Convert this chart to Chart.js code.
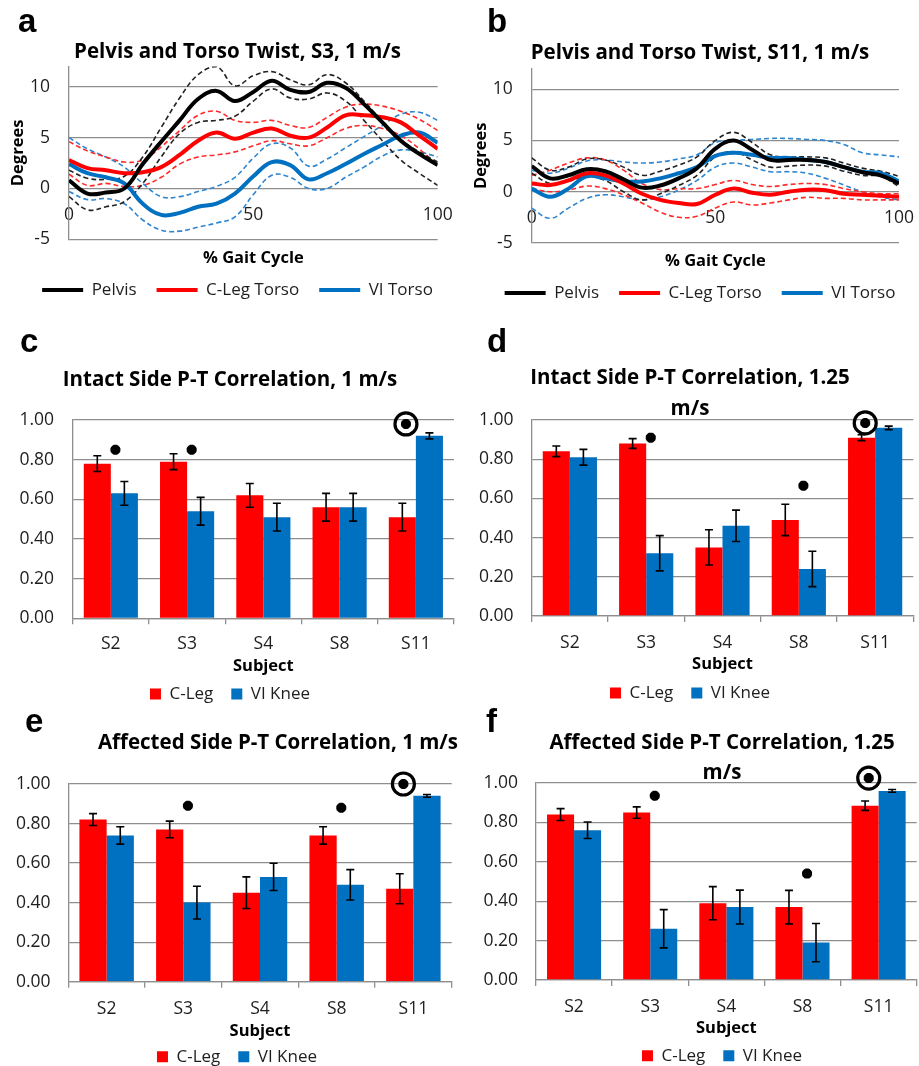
<!DOCTYPE html>
<html><head><meta charset="utf-8"><title>Pelvis-Torso twist and P-T correlation</title>
<script src="https://cdn.jsdelivr.net/npm/chart.js@4.4.1/dist/chart.umd.min.js"></script>
<style>
html,body{margin:0;padding:0;overflow:hidden;background:#fff;width:919px;height:1066px}
#wrap{position:relative;width:919px;height:1066px;overflow:hidden;background:#fff}
.pl{position:absolute;font-family:"Liberation Sans",Arial,sans-serif;font-weight:bold;font-size:33px;line-height:33px;color:#000;z-index:5}
</style></head><body><div id="wrap">
<div class="pl" style="left:18px;top:4px">a</div>
<div class="pl" style="left:487px;top:4px">b</div>
<div class="pl" style="left:20px;top:324px">c</div>
<div class="pl" style="left:487px;top:324px">d</div>
<div class="pl" style="left:25px;top:704px">e</div>
<div class="pl" style="left:486px;top:704px">f</div>
</div>
<script>
// ---------------- DATA ----------------
const gaitPct = [0,5,10,15,20,25,30,35,40,45,50,55,60,65,70,75,80,85,90,95,100];

// Panel a: S3, 1 m/s
const aPelvis   = [0.8,-0.5,-0.4,0.0,2.4,4.6,6.7,8.8,9.6,8.6,9.5,10.6,9.7,9.5,10.4,9.9,8.3,6.5,4.7,3.4,2.3];
const aPelvisHi = [1.8,1.0,0.9,1.2,3.1,6.0,8.9,11.2,12.0,10.1,11.1,11.5,10.7,10.2,11.2,10.4,8.6,6.6,4.8,3.6,2.6];
const aPelvisLo = [-0.8,-2.1,-1.8,-1.3,0.5,3.1,5.4,6.5,6.7,7.1,8.6,9.8,8.9,8.8,9.4,8.6,6.7,4.7,2.8,1.5,0.3];
const aCLeg     = [2.8,2.0,1.8,1.5,1.6,2.1,3.3,4.7,5.5,4.9,5.5,5.9,5.2,5.0,6.0,7.2,7.2,7.0,6.5,5.2,3.9];
const aCLegHi   = [4.6,3.7,3.1,2.6,2.8,4.1,5.7,7.2,7.6,6.7,6.5,6.7,6.2,6.0,7.0,8.0,8.3,8.1,7.6,6.8,5.7];
const aCLegLo   = [1.4,0.3,0.5,0.2,0.3,1.1,2.4,3.1,3.3,3.6,4.2,4.7,4.4,4.2,5.0,5.9,6.2,5.9,5.2,3.9,2.2];
const aVI       = [2.4,1.5,1.1,0.5,-1.5,-2.6,-2.4,-1.8,-1.5,-0.5,1.2,2.6,2.3,0.9,1.5,2.4,3.4,4.3,5.2,5.5,4.5];
const aVIHi     = [5.0,3.9,3.1,2.1,0.5,-0.8,-0.8,-0.3,0.2,1.1,3.0,4.4,4.0,2.2,2.9,4.0,5.1,6.2,7.3,7.5,6.7];
const aVILo     = [-0.3,-1.1,-1.0,-1.5,-3.1,-4.1,-4.2,-3.8,-3.4,-2.8,-0.6,1.3,1.1,0.0,0.0,1.1,2.1,3.2,3.8,3.6,3.1];

// Panel b: S11, 1 m/s
const bPelvis   = [2.5,1.3,1.6,2.2,2.0,1.2,0.4,0.6,1.3,2.3,4.2,5.0,4.1,3.1,3.1,3.1,2.9,2.4,1.9,1.6,0.8];
const bPelvisHi = [3.3,2.1,2.4,3.2,3.1,2.4,1.6,2.0,2.6,3.4,5.0,5.8,4.8,3.6,3.4,3.4,3.3,2.8,2.3,2.0,1.5];
const bPelvisLo = [1.8,0.8,1.0,1.5,1.1,0.0,-0.8,-0.2,0.6,1.6,3.4,3.9,3.1,2.4,2.5,2.6,2.5,2.0,1.6,1.5,0.5];
const bCLeg     = [0.8,0.65,1.1,1.8,1.6,0.8,-0.2,-0.8,-1.1,-1.2,-0.3,0.3,-0.1,-0.3,0.0,0.2,0.15,-0.2,-0.3,-0.4,-0.5];
const bCLegHi   = [1.6,2.1,2.8,3.3,3.1,2.1,0.8,0.2,0.3,0.3,0.7,1.1,0.7,0.5,0.7,0.8,0.7,0.3,0.0,-0.2,-0.2];
const bCLegLo   = [0.3,0.0,0.15,0.55,0.3,-0.3,-1.1,-2.0,-2.5,-2.4,-1.6,-1.0,-1.3,-1.1,-0.8,-0.55,-0.65,-0.65,-0.8,-0.8,-0.8];
const bVI       = [0.3,-0.5,0.3,1.5,1.3,1.0,1.0,1.3,1.8,2.4,3.5,3.8,3.6,3.3,3.3,3.1,2.9,2.4,1.95,1.8,1.0];
const bVIHi     = [2.1,1.8,2.3,3.0,3.1,2.9,2.8,2.9,3.2,3.6,4.8,5.0,5.1,5.2,5.2,5.1,5.0,4.6,3.8,3.6,3.4];
const bVILo     = [-1.6,-2.6,-1.6,-0.65,-0.3,-0.5,-0.8,-0.5,0.15,1.1,2.4,2.8,2.4,1.95,1.95,1.8,1.3,0.65,0.0,-0.5,-0.8];

const lineTicksY = [-5,0,5,10];
const lineTicksX = [0,50,100];

// Bar panels
const subjects = ['S2','S3','S4','S8','S11'];
// c: intact side, 1 m/s
const cCLeg = [0.78,0.79,0.62,0.56,0.51];
const cCLegErr = [0.04,0.04,0.06,0.07,0.07];
const cVI = [0.63,0.54,0.51,0.56,0.92];
const cVIErr = [0.06,0.07,0.07,0.07,0.015];
const cStar = [0.85,0.85,null,null,0.98];
const cCircle = [null,null,null,null,0.98];
// d: intact side, 1.25 m/s
const dCLeg = [0.84,0.88,0.35,0.49,0.91];
const dCLegErr = [0.027,0.025,0.09,0.08,0.015];
const dVI = [0.81,0.32,0.46,0.24,0.96];
const dVIErr = [0.04,0.09,0.08,0.09,0.009];
const dStar = [null,0.91,null,0.665,0.985];
const dCircle = [null,null,null,null,0.985];
// e: affected side, 1 m/s
const eCLeg = [0.82,0.77,0.45,0.74,0.47];
const eCLegErr = [0.03,0.042,0.08,0.044,0.076];
const eVI = [0.74,0.40,0.53,0.49,0.94];
const eVIErr = [0.044,0.083,0.069,0.077,0.007];
const eStar = [null,0.89,null,0.88,1.0];
const eCircle = [null,null,null,null,1.0];
// f: affected side, 1.25 m/s
const fCLeg = [0.84,0.85,0.39,0.37,0.885];
const fCLegErr = [0.03,0.029,0.084,0.085,0.024];
const fVI = [0.76,0.26,0.37,0.19,0.96];
const fVIErr = [0.042,0.097,0.086,0.097,0.007];
const fStar = [null,0.935,null,0.54,1.025];
const fCircle = [null,null,null,null,1.025];

const barTicks = [0,0.2,0.4,0.6,0.8,1.0];

// ---------------- STYLE ----------------
const RED = '#FF0000', BLUE = '#0070C0', BLACK = '#000000';
const GRID = '#8e8e8e', TXT = '#1e1e1e';
const TITLE_SIZE = 20.5, TICK_SIZE = 17.5, AXT_SIZE = 16.5, LEG_SIZE = 17;
const STAR_DX = 0.06, CIRCLE_DX = -0.13;

Chart.defaults.font.family = "'Open Sans', 'Noto Sans', sans-serif";
Chart.defaults.color = TXT;
Chart.defaults.animation = false;

function mkCanvas(left, top, w, h) {
  const c = document.createElement('canvas');
  c.width = w; c.height = h;
  c.style.cssText = 'position:absolute;left:' + left + 'px;top:' + top + 'px;width:' + w + 'px;height:' + h + 'px';
  document.getElementById('wrap').appendChild(c);
  return c;
}

function layoutFor(g) {
  const hw = g.hw || Math.max(g.cx - g.L + 72, g.R - g.cx + 5);
  const left = Math.round(g.cx - hw);
  const W = Math.round(g.cx + hw) - left;
  const yW = g.L - left;
  const rW = left + W - g.R;
  const tLH = g.titleLH || TITLE_SIZE * 1.2;
  const n = g.title.length;
  const tPadTop = g.titleY - g.top - tLH / 2;
  const tPadBot = (g.T - g.top) - tPadTop - n * tLH;
  const itemH = LEG_SIZE, P = g.legendPad;
  const legTop = g.legendY - g.top - P - itemH / 2;
  const legH = itemH + P + 10;
  const H = Math.ceil(legTop + legH + 2);
  const padBottom = H - legTop - legH;
  const axH = legTop - (g.B - g.top);
  const axPadBot = legTop - AXT_SIZE * 1.2 / 2 - (g.axTitleY - g.top);
  return {left, W, H, yW, rW, tLH, tPadTop, tPadBot, padBottom, axH, axPadBot};
}

function titleOpts(g, c) {
  return {display: true, text: g.title, align: g.titleAlign || 'center', color: '#000',
    font: {size: TITLE_SIZE, weight: 'bold', lineHeight: c.tLH / TITLE_SIZE},
    padding: {top: c.tPadTop, bottom: c.tPadBot}};
}

function lineChart(g, s) {
  const c = layoutFor(g);
  const cv = mkCanvas(c.left, g.top, c.W, c.H);
  const pts = arr => gaitPct.map((x, i) => ({x: x, y: arr[i]}));
  const mk = (arr, color, dashed, label) => ({
    label: label, data: pts(arr), borderColor: color, backgroundColor: color,
    borderWidth: dashed ? 1.6 : 4, borderDash: dashed ? [5, 3] : [], pointRadius: 0,
    tension: 0.4, fill: false, xAxisID: 'x', yAxisID: 'y'
  });
  const datasets = [
    mk(s.pelvis, BLACK, false, 'Pelvis'),
    mk(s.cleg, RED, false, 'C-Leg Torso'),
    mk(s.vi, BLUE, false, 'VI Torso'),
    mk(s.pelvisHi, '#222', true, 'Pelvis +SD'), mk(s.pelvisLo, '#222', true, 'Pelvis -SD'),
    mk(s.clegHi, '#ff2a2a', true, 'C-Leg +SD'), mk(s.clegLo, '#ff2a2a', true, 'C-Leg -SD'),
    mk(s.viHi, '#2f86d0', true, 'VI +SD'), mk(s.viLo, '#2f86d0', true, 'VI -SD')
  ];
  const yMin = -5, yMax = 12;
  const y0 = g.B - (0 - yMin) / (yMax - yMin) * (g.B - g.T);
  const xTickPad = g.tickY - y0 - TICK_SIZE * 1.2 / 2;
  new Chart(cv, {
    type: 'line',
    data: {datasets: datasets},
    options: {
      responsive: false, animation: false,
      layout: {padding: {left: 0, right: 0, top: 0, bottom: c.padBottom}},
      scales: {
        x: {type: 'linear', min: 0, max: 100, position: {y: 0},
          afterBuildTicks: sc => { sc.ticks = lineTicksX.map(v => ({value: v})); },
          grid: {display: false, drawTicks: false}, border: {display: false},
          ticks: {padding: xTickPad, font: {size: TICK_SIZE}, color: TXT, maxRotation: 0}},
        xt: {type: 'linear', position: 'bottom', min: 0, max: 100,
          ticks: {display: false}, grid: {display: false, drawTicks: false}, border: {display: false},
          title: {display: true, text: '% Gait Cycle', color: '#000', font: {size: AXT_SIZE, weight: 'bold'},
            padding: {top: 0, bottom: c.axPadBot}},
          afterFit: sc => { sc.height = c.axH; }},
        y: {type: 'linear', min: yMin, max: yMax, position: 'left',
          afterBuildTicks: sc => { sc.ticks = lineTicksY.map(v => ({value: v})); },
          grid: {color: GRID, lineWidth: 1.3, drawTicks: false},
          border: {display: true, color: GRID, width: 1.3},
          ticks: {padding: g.L - g.yTickRight, font: {size: TICK_SIZE}, color: TXT},
          title: {display: true, text: 'Degrees', color: '#000', font: {size: AXT_SIZE, weight: 'bold'},
            padding: {top: g.yTitleX - c.left - AXT_SIZE * 1.2 / 2, bottom: 0}},
          afterFit: sc => { sc.width = c.yW; }},
        yr: {type: 'linear', position: 'right', ticks: {display: false}, grid: {display: false}, border: {display: false},
          afterFit: sc => { sc.width = c.rW; }}
      },
      plugins: {
        title: titleOpts(g, c),
        legend: {position: 'bottom',
          labels: {boxWidth: 41, boxHeight: 4, padding: g.legendPad, font: {size: LEG_SIZE}, color: TXT,
            generateLabels: ch => ch.data.datasets.slice(0, 3).map((d, i) => ({
              text: d.label, fillStyle: d.borderColor, strokeStyle: d.borderColor, lineWidth: 0,
              hidden: false, datasetIndex: i, fontColor: TXT}))}},
        tooltip: {enabled: false}
      }
    }
  });
}

// error bars, drawn from each bar element and the y scale
const errPlugin = {
  id: 'errbars',
  afterDatasetsDraw(chart) {
    const ctx = chart.ctx, ys = chart.scales.y;
    ctx.save();
    ctx.strokeStyle = '#000'; ctx.lineWidth = 1.6;
    chart.data.datasets.forEach((ds, di) => {
      if (!ds.errValues) return;
      const meta = chart.getDatasetMeta(di);
      meta.data.forEach((bar, i) => {
        const v = ds.data[i], e = ds.errValues[i];
        const yt = ys.getPixelForValue(v + e), yb = ys.getPixelForValue(v - e);
        const x = bar.x, cw = 4;
        ctx.beginPath();
        ctx.moveTo(x, yt); ctx.lineTo(x, yb);
        ctx.moveTo(x - cw, yt); ctx.lineTo(x + cw, yt);
        ctx.moveTo(x - cw, yb); ctx.lineTo(x + cw, yb);
        ctx.stroke();
      });
    });
    ctx.restore();
  }
};

// significance asterisks and highlight circles, placed with the chart's own scales
function sigPlugin(stars, circles) {
  return {
    id: 'sigmarks',
    afterDatasetsDraw(chart) {
      const ctx = chart.ctx, xs = chart.scales.x, ys = chart.scales.y;
      const cw = (xs.right - xs.left) / subjects.length;
      ctx.save();
      ctx.strokeStyle = '#000'; ctx.fillStyle = 'rgba(0,0,0,0)';
      subjects.forEach((s, i) => {
        const hasCircle = circles[i] != null;
        const dx = (hasCircle ? CIRCLE_DX : STAR_DX) * cw;
        const x = xs.getPixelForValue(i) + dx;
        if (stars[i] != null) {
          ctx.lineWidth = 3.6;
          Chart.helpers.drawPoint(ctx, {pointStyle: 'star', radius: 5, borderWidth: 3.6, rotation: 0}, x, ys.getPixelForValue(stars[i]));
        }
        if (hasCircle) {
          ctx.lineWidth = 3.2;
          Chart.helpers.drawPoint(ctx, {pointStyle: 'circle', radius: 11, borderWidth: 3.2, rotation: 0}, x, ys.getPixelForValue(circles[i]));
        }
      });
      ctx.restore();
    }
  };
}

function barChart(g, d) {
  const c = layoutFor(g);
  const cv = mkCanvas(c.left, g.top, c.W, c.H);
  const tickLen = 6;
  const tickPad = g.tickY - g.B - tickLen - TICK_SIZE * 1.2 / 2;
  new Chart(cv, {
    type: 'bar',
    data: {labels: subjects, datasets: [
      {label: 'C-Leg', data: d.cleg, errValues: d.clegErr, backgroundColor: RED, borderWidth: 0,
        categoryPercentage: 0.71, barPercentage: 1.0},
      {label: 'VI Knee', data: d.vi, errValues: d.viErr, backgroundColor: BLUE, borderWidth: 0,
        categoryPercentage: 0.71, barPercentage: 1.0}
    ]},
    options: {
      responsive: false, animation: false,
      layout: {padding: {left: 0, right: 0, top: 0, bottom: c.padBottom}},
      scales: {
        x: {type: 'category', position: 'bottom',
          grid: {display: true, drawOnChartArea: false, drawTicks: true, tickLength: tickLen, offset: true, color: GRID, lineWidth: 1.3},
          border: {display: true, color: GRID, width: 1.3},
          ticks: {padding: tickPad, font: {size: TICK_SIZE}, color: TXT, maxRotation: 0},
          title: {display: true, text: 'Subject', color: '#000', font: {size: AXT_SIZE, weight: 'bold'},
            padding: {top: 0, bottom: c.axPadBot}},
          afterFit: sc => { sc.height = c.axH; }},
        y: {type: 'linear', min: 0, max: 1, position: 'left',
          afterBuildTicks: sc => { sc.ticks = barTicks.map(v => ({value: v})); },
          grid: {color: GRID, lineWidth: 1.3, drawTicks: false},
          border: {display: true, color: GRID, width: 1.3},
          ticks: {padding: g.L - g.yTickRight, font: {size: TICK_SIZE}, color: TXT, callback: v => Number(v).toFixed(2)},
          afterFit: sc => { sc.width = c.yW; }},
        yr: {type: 'linear', position: 'right', ticks: {display: false}, grid: {display: false}, border: {display: false},
          afterFit: sc => { sc.width = c.rW; }}
      },
      plugins: {
        title: titleOpts(g, c),
        legend: {position: 'bottom',
          labels: {boxWidth: 11, boxHeight: 11, padding: g.legendPad, font: {size: LEG_SIZE}, color: TXT}},
        tooltip: {enabled: false}
      }
    },
    plugins: [errPlugin, sigPlugin(d.star, d.circle)]
  });
}

// ---------------- PANELS ----------------
lineChart({cx: 237.5, L: 69, R: 437.7, T: 66.5, B: 239.3, top: 0,
  title: ['Pelvis and Torso Twist, S3, 1 m/s'], titleY: 52, legendY: 290, legendPad: 20,
  axTitleY: 258, tickY: 215, yTitleX: 18, yTickRight: 50},
  {pelvis: aPelvis, pelvisHi: aPelvisHi, pelvisLo: aPelvisLo, cleg: aCLeg, clegHi: aCLegHi, clegLo: aCLegLo,
   vi: aVI, viHi: aVIHi, viLo: aVILo});

lineChart({cx: 700, L: 531.7, R: 899, T: 68.8, B: 242.9, top: 0,
  title: ['Pelvis and Torso Twist, S11, 1 m/s'], titleY: 53, legendY: 293, legendPad: 20,
  axTitleY: 261, tickY: 218.3, yTitleX: 481.7, yTickRight: 512.7},
  {pelvis: bPelvis, pelvisHi: bPelvisHi, pelvisLo: bPelvisLo, cleg: bCLeg, clegHi: bCLegHi, clegLo: bCLegLo,
   vi: bVI, viHi: bVIHi, viLo: bVILo});

barChart({cx: 230, L: 72.7, R: 454, T: 420, B: 618.3, top: 300,
  title: ['Intact Side P-T Correlation, 1 m/s'], titleY: 380, legendY: 694, legendPad: 18,
  axTitleY: 666.7, tickY: 644.3, yTickRight: 54},
  {cleg: cCLeg, clegErr: cCLegErr, vi: cVI, viErr: cVIErr, star: cStar, circle: cCircle});

barChart({cx: 690, L: 531.7, R: 913.3, T: 420, B: 616, top: 300,
  title: ['Intact Side P-T Correlation, 1.25', 'm/s'], titleY: 378, titleLH: 31, legendY: 693, legendPad: 18,
  axTitleY: 664, tickY: 643.3, yTickRight: 513.5},
  {cleg: dCLeg, clegErr: dCLegErr, vi: dVI, viErr: dVIErr, star: dStar, circle: dCircle});

barChart({cx: 237, hw: 221, titleAlign: 'end', L: 68.3, R: 451.7, T: 784, B: 981.7, top: 670,
  title: ['Affected Side P-T Correlation, 1 m/s'], titleY: 742.7, legendY: 1056.7, legendPad: 18,
  axTitleY: 1031.7, tickY: 1009.3, yTickRight: 50.5},
  {cleg: eCLeg, clegErr: eCLegErr, vi: eVI, viErr: eVIErr, star: eStar, circle: eCircle});

barChart({cx: 722, L: 536, R: 916.7, T: 783, B: 980, top: 670,
  title: ['Affected Side P-T Correlation, 1.25', 'm/s'], titleY: 742.7, titleLH: 30.3, legendY: 1055.7, legendPad: 18,
  axTitleY: 1028.3, tickY: 1006.7, yTickRight: 518},
  {cleg: fCLeg, clegErr: fCLegErr, vi: fVI, viErr: fVIErr, star: fStar, circle: fCircle});
</script>
</body></html>
